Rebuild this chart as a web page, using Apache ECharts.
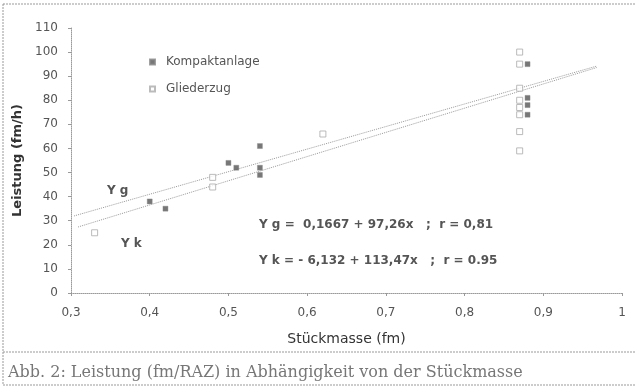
<!DOCTYPE html>
<html>
<head>
<meta charset="utf-8">
<script src="https://cdn.jsdelivr.net/npm/echarts@6/dist/echarts.min.js"></script>
<style>
  html, body { margin: 0; padding: 0; background: #fff; }
  #chart { width: 636px; height: 387px; }
</style>
</head>
<body>
<div id="chart"></div>
<script>
// Kompaktanlage (gefuellte Quadrate)
const kompaktX = [0.40, 0.42, 0.50, 0.51, 0.54, 0.54, 0.54, 0.88, 0.88, 0.88, 0.88];
const kompaktY = [38, 35, 54, 52, 61, 52, 49, 95, 81, 78, 74];
// Gliederzug (offene Quadrate)
const gliederX = [0.33, 0.48, 0.48, 0.62, 0.87, 0.87, 0.87, 0.87, 0.87, 0.87, 0.87, 0.87];
const gliederY = [25, 48, 44, 66, 100, 95, 85, 80, 77, 74, 67, 59];
// Regressionsgeraden wie im Bild gezeichnet (Anfang, Ende)
const lineGX = [0.304, 0.968];
const lineGY = [32, 94.2];
const lineKX = [0.309, 0.968];
const lineKY = [27.4, 93.6];

const xTicks = [0.3, 0.4, 0.5, 0.6, 0.7, 0.8, 0.9, 1];

function pairs(xs, ys) {
    return xs.map((x, i) => [x, ys[i]]);
}

const sans = '"DejaVu Sans", "Liberation Sans", sans-serif';
const axisGray = '#9a9a9a';

const chart = echarts.init(document.getElementById('chart'));
chart.setOption({
    animation: false,
    textStyle: { fontFamily: sans },
    grid: { left: 71, right: 14, top: 28, bottom: 94 },
    legend: {
        left: 144,
        top: 51,
        orient: 'vertical',
        itemGap: 15,
        itemWidth: 5,
        itemHeight: 5,
        data: ['Kompaktanlage', 'Gliederzug'],
        textStyle: { fontSize: 12, color: '#555', fontFamily: sans, padding: [0, 0, 0, 6] }
    },
    xAxis: {
        type: 'value',
        min: 0.3,
        max: 1,
        interval: 0.1,
        name: 'Stückmasse (fm)',
        nameLocation: 'middle',
        nameGap: 39,
        nameTextStyle: { fontSize: 14, color: '#333', fontFamily: sans },
        axisLine: { lineStyle: { color: axisGray, type: 'dotted', width: 1 } },
        axisTick: { show: true, length: 3, lineStyle: { color: axisGray } },
        splitLine: { show: false },
        axisLabel: {
            margin: 14,
            fontSize: 12,
            color: '#555',
            formatter: v => xTicks.includes(Math.round(v * 10) / 10) ? String(Math.round(v * 10) / 10).replace('.', ',') : ''
        }
    },
    yAxis: {
        type: 'value',
        min: 0,
        max: 110,
        interval: 10,
        name: 'Leistung (fm/h)',
        nameLocation: 'middle',
        nameGap: 46,
        nameTextStyle: { fontSize: 13, fontWeight: 'bold', color: '#333', fontFamily: sans },
        axisLine: { show: true, lineStyle: { color: axisGray, type: 'dotted', width: 1 } },
        axisTick: { show: true, length: 3, lineStyle: { color: axisGray } },
        splitLine: { show: false },
        axisLabel: { margin: 13, fontSize: 12, color: '#555' }
    },
    series: [{
        name: 'Kompaktanlage',
        type: 'scatter',
        symbol: 'rect',
        symbolSize: 5,
        itemStyle: { color: '#555', borderColor: '#888', borderWidth: 0.5 },
        data: pairs(kompaktX, kompaktY),
        z: 4
    }, {
        name: 'Gliederzug',
        type: 'scatter',
        symbol: 'rect',
        symbolSize: 6,
        itemStyle: { color: '#fff', borderColor: '#aaa', borderWidth: 1 },
        data: pairs(gliederX, gliederY),
        z: 3
    }, {
        name: 'Yg',
        type: 'line',
        showSymbol: false,
        lineStyle: { color: '#999', width: 1, type: 'dotted' },
        data: pairs(lineGX, lineGY),
        z: 2
    }, {
        name: 'Yk',
        type: 'line',
        showSymbol: false,
        lineStyle: { color: '#999', width: 1, type: 'dotted' },
        data: pairs(lineKX, lineKY),
        z: 2
    }],
    graphic: [
        // Rahmen
        { type: 'rect', shape: { x: 3, y: 4, width: 640, height: 381 }, style: { fill: 'none', stroke: '#999', lineWidth: 1, lineDash: [2, 1] }, silent: true },
        { type: 'line', shape: { x1: 3, y1: 352, x2: 636, y2: 352 }, style: { stroke: '#999', lineWidth: 1, lineDash: [2, 1] }, silent: true },
        { type: 'text', left: 8, top: 365, style: { text: 'Abb. 2: Leistung (fm/RAZ) in Abhängigkeit von der Stückmasse', font: '16px "DejaVu Serif", serif', fill: '#777' } },
        // Beschriftung der Geraden
        { type: 'text', left: 107, top: 185, style: { text: 'Y g', font: 'bold 12px ' + sans, fill: '#555' } },
        { type: 'text', left: 121, top: 238, style: { text: 'Y k', font: 'bold 12px ' + sans, fill: '#555' } },
        { type: 'text', left: 259, top: 219, style: { text: 'Y g =  0,1667 + 97,26x   ;  r = 0,81', font: 'bold 12px ' + sans, fill: '#555' } },
        { type: 'text', left: 259, top: 255, style: { text: 'Y k = - 6,132 + 113,47x   ;  r = 0.95', font: 'bold 12px ' + sans, fill: '#555' } }
    ]
});
</script>
</body>
</html>
